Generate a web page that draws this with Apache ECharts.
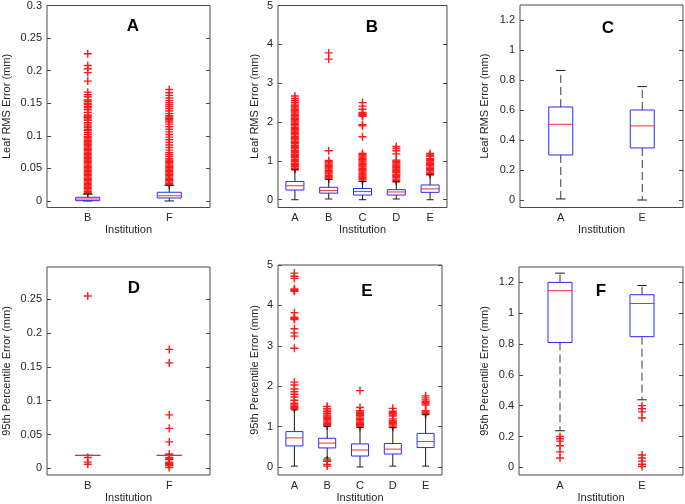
<!DOCTYPE html>
<html>
<head>
<meta charset="utf-8">
<script src="https://cdn.jsdelivr.net/npm/echarts@6/dist/echarts.min.js"></script>
<style>html,body{margin:0;padding:0;background:#fff;}#c{width:685px;height:504px;}</style>
</head>
<body>
<div id="c"></div>
<script>
// ---------- Data ----------
// box rows: [lower whisker, Q1, median, Q3, upper whisker]
const catsA = ['B', 'F'];
const boxA = [[0, 0.0005, 0.003, 0.0057, 0.0105], [0, 0.0046, 0.008, 0.0134, 0.024]];
const outA_B = [0.011,0.013,0.015,0.017,0.019,0.021,0.023,0.025,0.027,0.029,0.031,0.033,0.035,0.037,0.039,0.041,0.043,0.045,0.047,0.049,0.051,0.053,0.055,0.057,0.059,0.061,0.063,0.065,0.067,0.069,0.071,0.073,0.075,0.077,0.079,0.081,0.083,0.085,0.087,0.089,0.091,0.093,0.095,0.097,0.099,0.102,0.105,0.108,0.110,0.113,0.115,0.118,0.120,0.124,0.126,0.128,0.130,0.132,0.136,0.140,0.143,0.145,0.148,0.150,0.153,0.155,0.160,0.163,0.167,0.184,0.197,0.203,0.208,0.226];
const outA_F = [0.025,0.027,0.029,0.031,0.033,0.035,0.037,0.039,0.041,0.043,0.045,0.047,0.049,0.051,0.053,0.055,0.057,0.059,0.061,0.063,0.065,0.068,0.071,0.074,0.078,0.082,0.086,0.090,0.094,0.098,0.102,0.106,0.110,0.114,0.118,0.121,0.123,0.125,0.127,0.129,0.131,0.134,0.138,0.142,0.145,0.148,0.151,0.154,0.158,0.162,0.166,0.171];
const yTicksA = [0, 0.05, 0.1, 0.15, 0.2, 0.25, 0.3];

const catsB = ['A', 'B', 'C', 'D', 'E'];
const boxB = [[0, 0.25, 0.36, 0.47, 0.77], [0.02, 0.17, 0.24, 0.32, 0.52], [0, 0.12, 0.21, 0.29, 0.47], [0.02, 0.12, 0.2, 0.26, 0.46], [0, 0.19, 0.28, 0.38, 0.64]];
const outB_A = [0.78,0.81,0.85,0.88,0.91,0.94,0.98,1.01,1.04,1.08,1.11,1.14,1.17,1.21,1.24,1.27,1.31,1.34,1.37,1.40,1.44,1.47,1.50,1.54,1.57,1.60,1.63,1.67,1.70,1.73,1.77,1.80,1.83,1.86,1.90,1.93,1.96,2.00,2.03,2.06,2.09,2.13,2.16,2.19,2.23,2.26,2.29,2.32,2.36,2.39,2.42,2.46,2.51,2.56,2.61,2.67];
const outB_B = [0.53,0.56,0.59,0.62,0.66,0.69,0.72,0.75,0.79,0.82,0.85,0.88,0.92,0.95,0.98,1.01,1.26,3.62,3.78];
const outB_C = [0.48,0.51,0.54,0.58,0.61,0.64,0.67,0.71,0.74,0.77,0.80,0.84,0.87,0.90,0.93,0.97,1.00,1.03,1.06,1.10,1.13,1.16,1.19,1.62,1.9,1.93,2.15,2.17,2.19,2.21,2.23,2.25,2.33,2.41,2.5];
const outB_D = [0.47,0.50,0.53,0.57,0.60,0.63,0.66,0.70,0.73,0.76,0.79,0.83,0.86,0.89,0.92,0.96,0.99,1.02,1.18,1.26,1.32,1.37];
const outB_E = [0.65,0.68,0.71,0.75,0.78,0.81,0.84,0.88,0.91,0.94,0.97,1.01,1.04,1.06,1.12,1.15,1.19];
const yTicksB = [0, 1, 2, 3, 4, 5];

const catsC = ['A', 'E'];
const boxC = [[0.007, 0.30, 0.505, 0.62, 0.864], [0, 0.347, 0.494, 0.60, 0.756]];
const yTicksC = [0, 0.2, 0.4, 0.6, 0.8, 1, 1.2];

const catsD = ['B', 'F'];
const boxD = [[0.019, 0.019, 0.019, 0.019, 0.019], [0.019, 0.019, 0.019, 0.019, 0.019]];
const outD_B = [0.255, 0.016, 0.009, 0.006];
const outD_F = [0.176, 0.156, 0.079, 0.059, 0.039, 0.021, 0.016, 0.014, 0.013, 0.009, 0.008, 0.007, 0.006, 0.005, 0.004, 0.001];
const yTicksD = [0, 0.05, 0.1, 0.15, 0.2, 0.25];

const catsE = ['A', 'B', 'C', 'D', 'E'];
const boxE = [[0.02, 0.52, 0.72, 0.875, 1.41], [0.22, 0.47, 0.59, 0.71, 1.0], [0, 0.27, 0.42, 0.57, 0.98], [0.02, 0.32, 0.44, 0.58, 0.97], [0.02, 0.48, 0.63, 0.83, 1.29]];
const outE_A = [1.44,1.47,1.50,1.53,1.56,1.58,1.65,1.73,1.8,1.86,1.93,2.03,2.1,2.94,3.24,3.32,3.42,3.65,3.67,3.69,3.71,3.82,4.35,4.37,4.39,4.41,4.67,4.72,4.8];
const outE_B = [0.17,0.14,0.06,0.02,1.02,1.05,1.08,1.11,1.14,1.17,1.2,1.23,1.26,1.29,1.33,1.37,1.41,1.45,1.5];
const outE_C = [0.99,1.02,1.05,1.08,1.11,1.14,1.17,1.2,1.24,1.27,1.30,1.33,1.36,1.39,1.47,1.89];
const outE_D = [0.98,1.01,1.04,1.07,1.10,1.13,1.16,1.19,1.26,1.29,1.32,1.35,1.38,1.45];
const outE_E = [1.30,1.33,1.36,1.39,1.53,1.56,1.59,1.62,1.66,1.71,1.76];
const yTicksE = [0, 1, 2, 3, 4, 5];

const catsF = ['A', 'E'];
const boxF = [[0.237, 0.81, 1.146, 1.2, 1.26], [0.438, 0.848, 1.063, 1.12, 1.18]];
const outF_A = [0.2, 0.185, 0.17, 0.14, 0.1, 0.06];
const outF_E = [0.4, 0.38, 0.36, 0.32, 0.08, 0.06, 0.04, 0.02, 0.005];
const yTicksF = [0, 0.2, 0.4, 0.6, 0.8, 1, 1.2];

const nameTop = 'Leaf RMS Error (mm)';
const nameBottom = '95th Percentile Error (mm)';
const xName = 'Institution';

// ---------- Layout ----------
const FONT = '"Liberation Sans", Arial, Helvetica, sans-serif';
const TXT = '#262626';
const panels = [
  {label:'A', cats:catsA, box:boxA, outs:[outA_B, outA_F], ticks:yTicksA, min:-0.01, max:0.3, yname:nameTop,
   grid:{left:45, top:5, width:165, height:202.5}, gap:35, bw:24, dashed:false, tx:133, ty:26},
  {label:'B', cats:catsB, box:boxB, outs:[outB_A, outB_B, outB_C, outB_D, outB_E], ticks:yTicksB, min:-0.2, max:5, yname:nameTop,
   grid:{left:278, top:5, width:169, height:202.5}, gap:18, bw:18, dashed:false, tx:372, ty:27},
  {label:'C', cats:catsC, box:boxC, outs:[[], []], ticks:yTicksC, min:-0.05, max:1.3, yname:nameTop,
   grid:{left:520, top:5, width:163, height:202.5}, gap:30, bw:24, dashed:true, tx:608, ty:28},
  {label:'D', cats:catsD, box:boxD, outs:[outD_B, outD_F], ticks:yTicksD, min:-0.01, max:0.298, yname:nameBottom,
   grid:{left:45, top:267, width:165, height:209}, gap:35, bw:25, dashed:false, tx:134, ty:288},
  {label:'E', cats:catsE, box:boxE, outs:[outE_A, outE_B, outE_C, outE_D, outE_E], ticks:yTicksE, min:-0.2, max:5, yname:nameBottom,
   grid:{left:278, top:265, width:164, height:211}, gap:18, bw:17, dashed:false, tx:367, ty:291},
  {label:'F', cats:catsF, box:boxF, outs:[outF_A, outF_E], ticks:yTicksF, min:-0.05, max:1.3, yname:nameBottom,
   grid:{left:519, top:267, width:164, height:209}, gap:29, bw:24, dashed:true, tx:601, ty:291}
];

const grids = [], xAxes = [], yAxes = [], series = [], graphics = [];
const plus = 'path://M0,5L10,5M5,0L5,10';

function makeRender(bw, dashed) {
  return function (params, api) {
    const i = api.value(0);
    const lo = api.coord([i, api.value(1)]);
    const q1 = api.coord([i, api.value(2)]);
    const md = api.coord([i, api.value(3)]);
    const q3 = api.coord([i, api.value(4)]);
    const hi = api.coord([i, api.value(5)]);
    const cx = lo[0];
    const hw = bw / 2, cw = bw * 0.2;
    const wStyle = {stroke: dashed ? '#3a3a3a' : '#1a1a1a', lineWidth: 1, lineDash: dashed ? [8, 4] : null};
    const kids = [];
    if (hi[1] < q3[1]) kids.push({type:'line', shape:{x1:cx, y1:q3[1], x2:cx, y2:hi[1]}, style:wStyle});
    if (lo[1] > q1[1]) kids.push({type:'line', shape:{x1:cx, y1:q1[1], x2:cx, y2:lo[1]}, style:wStyle});
    kids.push({type:'line', shape:{x1:cx-cw, y1:hi[1], x2:cx+cw, y2:hi[1]}, style:{stroke:'#1a1a1a', lineWidth:1}});
    kids.push({type:'line', shape:{x1:cx-cw, y1:lo[1], x2:cx+cw, y2:lo[1]}, style:{stroke:'#1a1a1a', lineWidth:1}});
    kids.push({type:'rect', shape:{x:cx-hw, y:q3[1], width:bw, height:Math.max(0, q1[1]-q3[1])}, style:{fill:'none', stroke:'#2a2aff', lineWidth:1}});
    kids.push({type:'line', shape:{x1:cx-hw, y1:md[1], x2:cx+hw, y2:md[1]}, style:{stroke:'#ff2a2a', lineWidth:1}});
    return {type:'group', children:kids};
  };
}

panels.forEach((p, k) => {
  grids.push(Object.assign({show:true, borderColor:'#4a4a4a', borderWidth:1, backgroundColor:'#fff', containLabel:false}, p.grid));
  xAxes.push({
    type:'category', gridIndex:k, data:p.cats, boundaryGap:true,
    axisLine:{show:false}, axisTick:{show:false}, splitLine:{show:false},
    axisLabel:{color:TXT, fontSize:11, fontFamily:FONT, margin:5},
    name:xName, nameLocation:'middle', nameGap:17,
    nameTextStyle:{color:TXT, fontSize:11, fontFamily:FONT}
  });
  yAxes.push({
    type:'value', gridIndex:k, min:p.min, max:p.max, position:'left',
    axisLine:{show:false}, splitLine:{show:false},
    axisTick:{show:true, inside:true, length:4, lineStyle:{color:'#4a4a4a'}, customValues:p.ticks},
    axisLabel:{color:TXT, fontSize:11, fontFamily:FONT, margin:5, customValues:p.ticks},
    name:p.yname, nameLocation:'middle', nameGap:p.gap, nameRotate:90,
    nameTextStyle:{color:TXT, fontSize:11, fontFamily:FONT}
  });
  yAxes.push({
    type:'value', gridIndex:k, min:p.min, max:p.max, position:'right',
    axisLine:{show:false}, splitLine:{show:false},
    axisTick:{show:true, inside:true, length:4, lineStyle:{color:'#4a4a4a'}, customValues:p.ticks},
    axisLabel:{show:false}
  });
  p.outs.forEach((arr, ci) => {
    if (!arr.length) return;
    series.push({
      type:'scatter', xAxisIndex:k, yAxisIndex:2*k, silent:true,
      symbol:plus, symbolSize:8,
      itemStyle:{color:'rgba(0,0,0,0)', borderColor:'#ff1a1a', borderWidth:1.4, opacity:1},
      data:arr.map(v => [ci, v]), z:2
    });
  });
  series.push({
    type:'custom', xAxisIndex:k, yAxisIndex:2*k, silent:true,
    renderItem:makeRender(p.bw, p.dashed),
    encode:{x:0, y:[1,2,3,4,5]},
    data:p.box.map((b, i) => [i].concat(b)), z:3
  });
  graphics.push({type:'text', x:p.tx, y:p.ty, z:10,
    style:{text:p.label, font:'bold 17px ' + FONT, fill:'#000', textAlign:'center', textVerticalAlign:'middle'}});
});

const chart = echarts.init(document.getElementById('c'), null, {renderer:'canvas'});
chart.setOption({
  animation:false,
  backgroundColor:'#fff',
  grid:grids, xAxis:xAxes, yAxis:yAxes, series:series, graphic:graphics
});
</script>
</body>
</html>
